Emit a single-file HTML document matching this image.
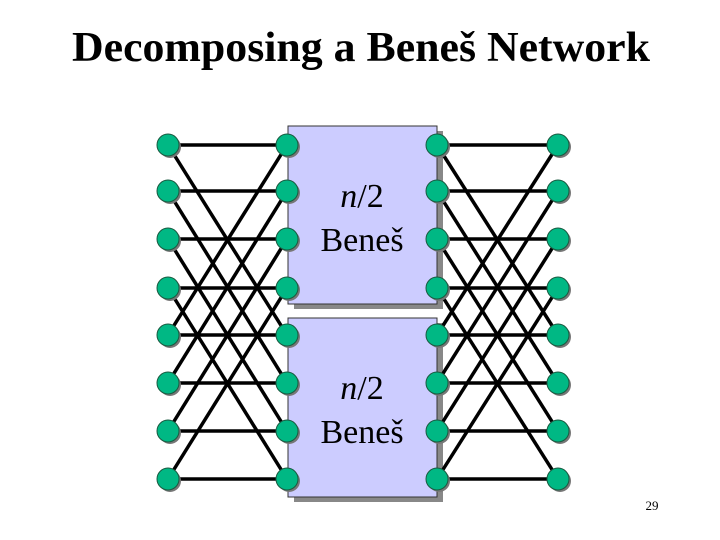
<!DOCTYPE html>
<html><head><style>body{margin:0;background:#fff}</style></head><body>
<svg width="720" height="540" xmlns="http://www.w3.org/2000/svg" style="display:block">
<rect width="720" height="540" fill="#fff"/>
<text x="72" y="61" textLength="578" lengthAdjust="spacingAndGlyphs" font-family="Liberation Serif, serif" font-weight="bold" font-size="42">Decomposing a Beneš Network</text>
<rect x="294" y="131" width="149" height="178" fill="#888"/>
<rect x="294" y="323" width="149" height="179" fill="#888"/>
<rect x="288" y="126" width="149" height="178" fill="#ccccff" stroke="#333" stroke-width="1"/>
<rect x="288" y="318" width="149" height="179" fill="#ccccff" stroke="#333" stroke-width="1"/>
<g font-family="Liberation Serif, serif" font-size="34" text-anchor="middle">
<text x="362" y="207"><tspan font-style="italic">n</tspan>/2</text>
<text x="362" y="251">Beneš</text>
<text x="362" y="399"><tspan font-style="italic">n</tspan>/2</text>
<text x="362" y="443">Beneš</text>
</g>
<g stroke="#000" stroke-width="3.5" id="lines"></g>
<g id="nodes"></g>
<text x="652" y="510" text-anchor="middle" font-family="Liberation Serif, serif" font-size="13">29</text>
<script>
var ys=[145,191,239,288,335,383,431,479];
var L=document.getElementById('lines'),N=document.getElementById('nodes');
function ln(x1,y1,x2,y2){var e=document.createElementNS('http://www.w3.org/2000/svg','line');e.setAttribute('x1',x1);e.setAttribute('y1',y1);e.setAttribute('x2',x2);e.setAttribute('y2',y2);L.appendChild(e);}
for(var i=0;i<8;i++){var j=(i+4)%8;ln(168,ys[i],287,ys[i]);ln(168,ys[i],287,ys[j]);ln(437,ys[i],558,ys[i]);ln(437,ys[j],558,ys[i]);}
[168,287,437,558].forEach(function(x){ys.forEach(function(y){
var s=document.createElementNS('http://www.w3.org/2000/svg','circle');s.setAttribute('cx',x+2);s.setAttribute('cy',y+2);s.setAttribute('r',11);s.setAttribute('fill','#777');N.appendChild(s);
var c=document.createElementNS('http://www.w3.org/2000/svg','circle');c.setAttribute('cx',x);c.setAttribute('cy',y);c.setAttribute('r',11);c.setAttribute('fill','#00b884');c.setAttribute('stroke','#1a5a40');c.setAttribute('stroke-width','1');N.appendChild(c);});});
</script>
</svg>
</body></html>
